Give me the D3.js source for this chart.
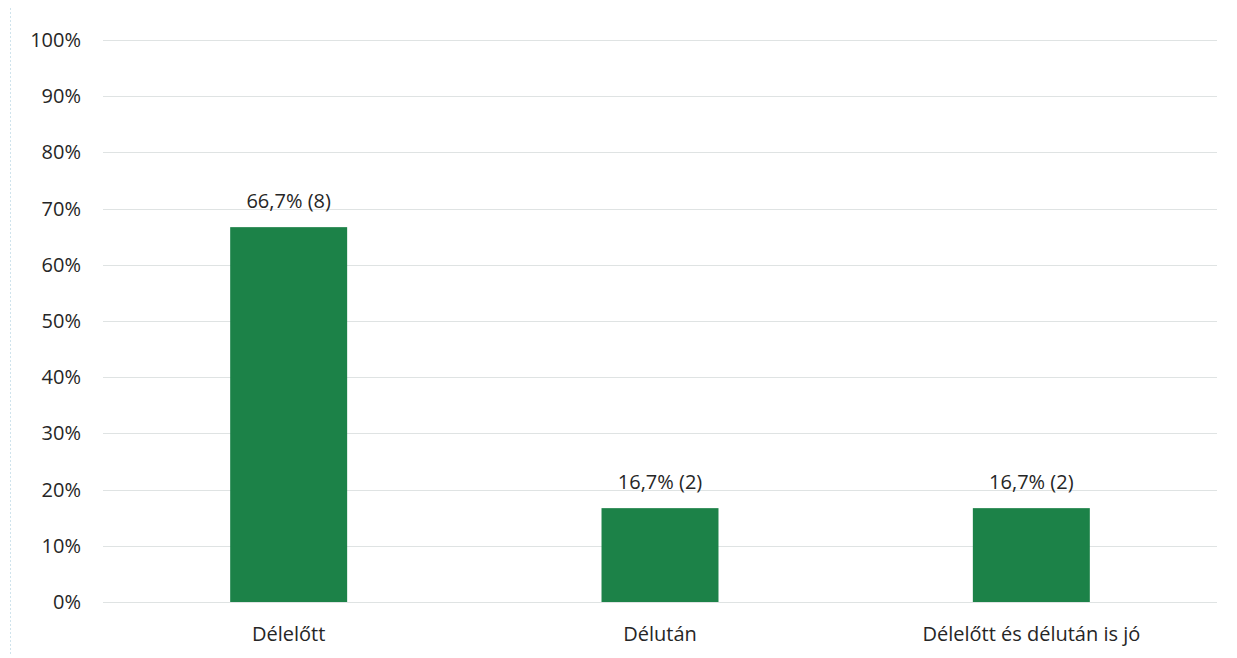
<!DOCTYPE html>
<html>
<head>
<meta charset="utf-8">
<script src="https://cdn.jsdelivr.net/npm/d3@7"></script>
<style>
  body { margin: 0; background: #fff; }
  text { font-family: "Open Sans", "Noto Sans", sans-serif; fill: #262626; }
</style>
</head>
<body>
<svg id="chart"></svg>
<script>
const categories = ["Délelőtt", "Délután", "Délelőtt és délután is jó"];
const percents = [66.7, 16.7, 16.7];
const counts = [8, 2, 2];
const tickValues = [0, 10, 20, 30, 40, 50, 60, 70, 80, 90, 100];

const width = 1237, height = 658;
const margin = { top: 40, right: 20, bottom: 56, left: 103 };

const svg = d3.select('#chart').attr('width', width).attr('height', height);

// faint frame, like the scanned border
svg.append('line')
    .attr('x1', 10.5).attr('x2', 10.5).attr('y1', 8).attr('y2', 656)
    .attr('stroke', '#cfe3ec').attr('stroke-dasharray', '2,2');

const data = categories.map((c, i) => ({ name: c, pct: percents[i], n: counts[i] }));

const x = d3.scaleBand()
    .domain(categories)
    .range([margin.left, width - margin.right])
    .paddingInner(0.685)
    .paddingOuter(0.3425);

const y = d3.scaleLinear()
    .domain([0, 100])
    .range([height - margin.bottom, margin.top]);

// gridlines
svg.append('g')
    .selectAll('line')
    .data(tickValues)
    .enter().append('line')
    .attr('x1', margin.left)
    .attr('x2', width - margin.right)
    .attr('y1', d => Math.round(y(d)) + 0.5)
    .attr('y2', d => Math.round(y(d)) + 0.5)
    .attr('stroke', '#dfe3e3')
    .attr('stroke-width', 1);

// y axis labels
const yAxis = svg.append('g')
    .attr('transform', 'translate(' + margin.left + ',0)')
    .call(d3.axisLeft(y).tickValues(tickValues).tickFormat(d => d + '%').tickSize(0).tickPadding(22));
yAxis.select('.domain').remove();
yAxis.selectAll('text').style('font-size', '20px').attr('fill', '#262626');

// bars
svg.append('g')
    .selectAll('rect')
    .data(data)
    .enter().append('rect')
    .attr('x', d => x(d.name))
    .attr('y', d => y(d.pct))
    .attr('width', x.bandwidth())
    .attr('height', d => y(0) - y(d.pct))
    .attr('fill', '#1c8248');

// value labels
svg.append('g')
    .selectAll('text')
    .data(data)
    .enter().append('text')
    .attr('x', d => x(d.name) + x.bandwidth() / 2)
    .attr('y', d => y(d.pct) - 19)
    .attr('text-anchor', 'middle')
    .style('font-size', '20px')
    .text(d => d.pct.toFixed(1).replace('.', ',') + '% (' + d.n + ')');

// x axis labels
const xAxis = svg.append('g')
    .attr('transform', 'translate(0,' + (height - margin.bottom) + ')')
    .call(d3.axisBottom(x).tickSize(0).tickPadding(25));
xAxis.select('.domain').remove();
xAxis.selectAll('text').style('font-size', '20px').attr('fill', '#262626');
</script>
</body>
</html>
